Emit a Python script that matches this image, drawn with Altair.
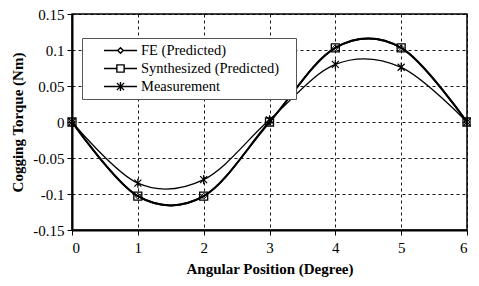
import altair as alt
import pandas as pd

positions = [0, 1, 2, 3, 4, 5, 6]
fe_predicted = [0, -0.103, -0.103, 0, 0.103, 0.103, 0]
synthesized_predicted = [0, -0.103, -0.103, 0, 0.103, 0.103, 0]
measurement = [0, -0.085, -0.080, 0.003, 0.080, 0.076, 0]
series_names = ["FE (Predicted)", "Synthesized (Predicted)", "Measurement"]
x_ticks = [0, 1, 2, 3, 4, 5, 6]
y_ticks = [-0.15, -0.1, -0.05, 0, 0.05, 0.1, 0.15]

rows = []
for name, vals in zip(series_names, [fe_predicted, synthesized_predicted, measurement]):
    for xv, yv in zip(positions, vals):
        rows.append({"x": xv, "y": yv, "series": name})
df = pd.DataFrame(rows)

FONT = "Liberation Serif"

diamond = "M0,-1L1,0L0,1L-1,0Z"
square = "M-1,-1H1V1H-1Z"
asterisk = "M-1,-1L1,1M-1,1L1,-1M0,-1.3V1.3"

legend_paths = [
    "M-1,0H-0.17M0.17,0H1M0,-0.17L0.17,0L0,0.17L-0.17,0Z",
    "M-1,0H-0.22M0.22,0H1M-0.22,-0.22H0.22V0.22H-0.22Z",
    "M-1,0H1M-0.22,-0.22L0.22,0.22M-0.22,0.22L0.22,-0.22M0,-0.28V0.28",
]

x_enc = alt.X("x:Q", scale=alt.Scale(domain=[0, 6], nice=False),
              axis=alt.Axis(values=x_ticks, title="Angular Position (Degree)",
                            format="d", labelPadding=5, titlePadding=6))
y_enc = alt.Y("y:Q", scale=alt.Scale(domain=[-0.15, 0.15], nice=False),
              axis=alt.Axis(values=y_ticks, title="Cogging Torque (Nm)",
                            labelExpr="datum.value < 0 ? '-' + format(-datum.value, '~g') : format(datum.value, '~g')",
                            labelPadding=3, titlePadding=7))

base = alt.Chart(df)

pred_lines = base.transform_filter(
    alt.FieldOneOfPredicate(field="series", oneOf=series_names[:2])
).mark_line(interpolate="cardinal", color="black", strokeWidth=1.9).encode(
    x=x_enc, y=y_enc, detail="series:N")

meas_line = base.transform_filter(
    alt.FieldEqualPredicate(field="series", equal=series_names[2])
).mark_line(interpolate="cardinal", color="black", strokeWidth=1.3).encode(
    x=x_enc, y=y_enc)

sq_pts = base.transform_filter(
    alt.FieldEqualPredicate(field="series", equal=series_names[1])
).mark_point(shape=square, size=64, filled=False, color="black", strokeWidth=1.3, opacity=1).encode(
    x=x_enc, y=y_enc)

di_pts = base.transform_filter(
    alt.FieldEqualPredicate(field="series", equal=series_names[0])
).mark_point(shape=diamond, size=36, filled=False, color="black", strokeWidth=1, opacity=1).encode(
    x=x_enc, y=y_enc)

ast_pts = base.transform_filter(
    alt.FieldEqualPredicate(field="series", equal=series_names[2])
).mark_point(shape=asterisk, size=49, filled=False, color="black", strokeWidth=1.2, opacity=1).encode(
    x=x_enc, y=y_enc)

legend_layer = base.mark_point(opacity=0, filled=False).encode(
    x=x_enc, y=y_enc,
    shape=alt.Shape("series:N",
                    scale=alt.Scale(domain=series_names, range=legend_paths),
                    legend=alt.Legend(
                        title="\u00a0", titleOrient="right", titleFontSize=16,
                        titlePadding=12, titleFont=FONT,
                        orient="none", legendX=10, legendY=24,
                        symbolSize=1089, symbolOpacity=1,
                        symbolFillColor="white", symbolStrokeColor="black",
                        symbolStrokeWidth=1.4,
                        symbolOffset=16, labelOffset=3,
                        clipHeight=15, labelLimit=300,
                        labelFont=FONT, labelFontSize=14.5, labelColor="black",
                        padding=5, rowPadding=2,
                        fillColor="white", strokeColor="#555555",
                        cornerRadius=0)))

chart = alt.layer(pred_lines, meas_line, sq_pts, di_pts, ast_pts, legend_layer).properties(
    width=395, height=216,
    autosize=alt.AutoSizeParams(type="none"),
    padding={"left": 64, "top": 6, "right": 4, "bottom": 48},
    background="white",
).configure_view(
    stroke="black", strokeWidth=1.5
).configure_axis(
    labelFont=FONT, labelFontSize=15, labelColor="black",
    titleFont=FONT, titleFontSize=15, titleFontWeight="bold", titleColor="black",
    domainColor="black", domainWidth=2,
    tickColor="black", tickSize=5, tickWidth=1,
    grid=True, gridColor="black", gridDash=[3, 3], gridWidth=1, gridOpacity=0.9,
)

chart.save("out.html", embed_options={"renderer": "svg", "actions": False})
